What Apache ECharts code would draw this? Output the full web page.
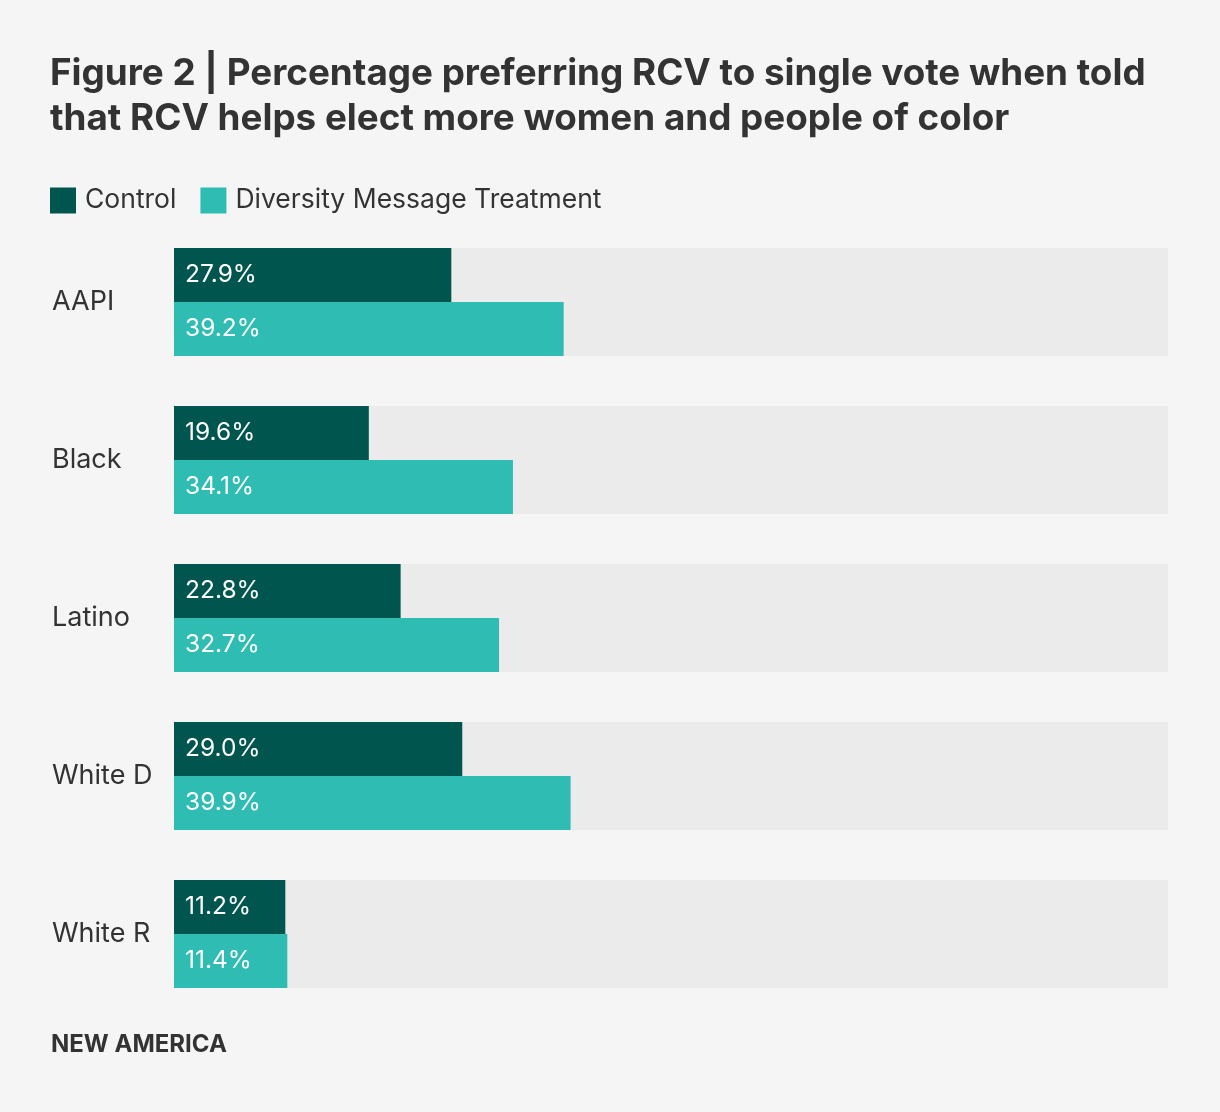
<!DOCTYPE html>
<html>
<head>
<meta charset="utf-8">
<script src="https://cdn.jsdelivr.net/npm/echarts@6/dist/echarts.min.js"></script>
<style>
html,body{margin:0;padding:0;background:#f5f5f5;}
#chart{width:1220px;height:1112px;}
</style>
</head>
<body>
<div id="chart"></div>
<script>
const categories = ['AAPI', 'Black', 'Latino', 'White D', 'White R'];
const controlValues = [27.9, 19.6, 22.8, 29.0, 11.2];
const treatmentValues = [39.2, 34.1, 32.7, 39.9, 11.4];
const seriesNames = ['Control', 'Diversity Message Treatment'];

const FONT = 'Inter, "Noto Sans", sans-serif';
const chart = echarts.init(document.getElementById('chart'));
const labelStyle = {
  show: true,
  position: 'insideLeft',
  distance: 11,
  color: '#ffffff',
  fontSize: 24.5,
  fontFamily: FONT,
  formatter: p => p.value.toFixed(1) + '%'
};
chart.setOption({
  backgroundColor: '#f5f5f5',
  title: {
    text: 'Figure 2 | Percentage preferring RCV to single vote when told\nthat RCV helps elect more women and people of color',
    left: 50,
    top: 51,
    padding: 0,
    textStyle: {
      fontFamily: FONT,
      fontWeight: 'bold',
      fontSize: 36.8,
      lineHeight: 45,
      color: '#333333'
    }
  },
  legend: {
    left: 50,
    top: 187,
    padding: 0,
    icon: 'rect',
    itemWidth: 26,
    itemHeight: 26,
    itemGap: 24,
    textStyle: { fontFamily: FONT, fontSize: 26.5, color: '#333333', padding: [0, 0, 0, 4] },
    data: seriesNames
  },
  grid: { left: 174, right: 52, top: 223, bottom: 99, containLabel: false, outerBoundsMode: 'none' },
  xAxis: {
    type: 'value', min: 0, max: 100, show: false
  },
  yAxis: {
    type: 'category',
    data: categories,
    inverse: true,
    axisLine: { show: false },
    axisTick: { show: false },
    splitLine: { show: false },
    axisLabel: {
      align: 'left',
      margin: 122,
      fontFamily: FONT,
      fontSize: 27,
      color: '#333333'
    }
  },
  series: [
    {
      name: seriesNames[0],
      type: 'bar',
      data: controlValues,
      barGap: '0%',
      barCategoryGap: '31.65%',
      itemStyle: { color: '#00564f' },
      showBackground: true,
      backgroundStyle: { color: '#ebebeb' },
      label: labelStyle
    },
    {
      name: seriesNames[1],
      type: 'bar',
      data: treatmentValues,
      barGap: '0%',
      barCategoryGap: '31.65%',
      itemStyle: { color: '#2fbdb3' },
      showBackground: true,
      backgroundStyle: { color: '#ebebeb' },
      label: labelStyle
    }
  ],
  graphic: [{
    type: 'text',
    left: 51,
    top: 1033,
    style: {
      text: 'NEW AMERICA',
      fontFamily: FONT,
      fontWeight: 'bold',
      fontSize: 24,
      fill: '#333333'
    }
  }]
});
</script>
</body>
</html>
